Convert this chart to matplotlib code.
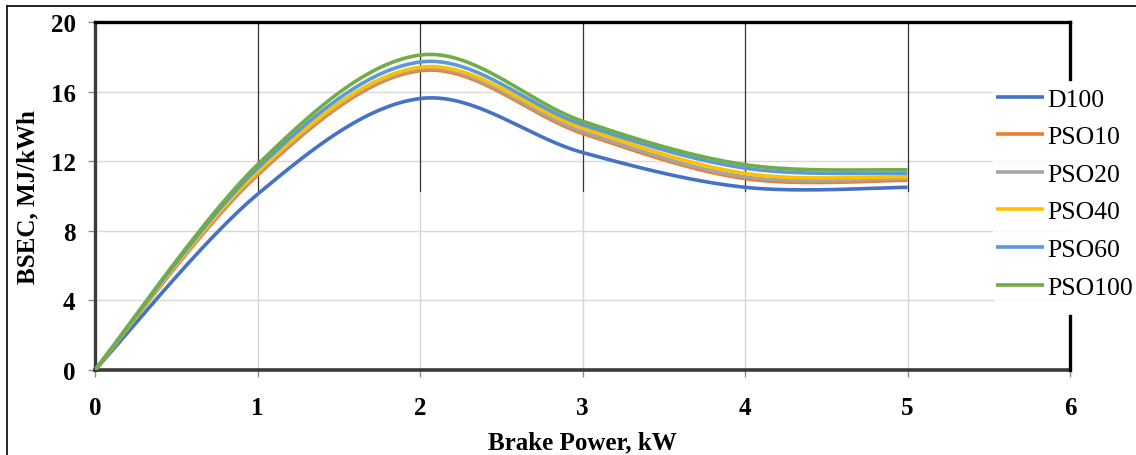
import numpy as np
import matplotlib
matplotlib.use("Agg")
import matplotlib.pyplot as plt
from matplotlib.lines import Line2D

# data
brake_power = [0, 1, 2, 3, 4, 5]
d100 = [0, 10.1, 15.6, 12.5, 10.5, 10.5]
pso10 = [0, 11.2, 17.2, 13.6, 11.0, 10.9]
pso20 = [0, 11.3, 17.3, 13.7, 11.1, 11.0]
pso40 = [0, 11.4, 17.4, 13.9, 11.3, 11.1]
pso60 = [0, 11.6, 17.7, 14.1, 11.6, 11.3]
pso100 = [0, 11.8, 18.1, 14.3, 11.8, 11.5]

series_names = ["D100", "PSO10", "PSO20", "PSO40", "PSO60", "PSO100"]
series_values = [d100, pso10, pso20, pso40, pso60, pso100]
series_colors = ["#4472C4", "#ED7D31", "#A5A5A5", "#FFC000", "#5B9BD5", "#70AD47"]

x_ticks = [0, 1, 2, 3, 4, 5, 6]
y_ticks = [0, 4, 8, 12, 16, 20]


def smooth(xs, ys, n=40):
    # Excel-style smoothed line (Bezier segments through the points)
    xs = np.asarray(xs, float)
    ys = np.asarray(ys, float)
    px = np.concatenate([[xs[0]], xs, [xs[-1]]])
    py = np.concatenate([[ys[0]], ys, [ys[-1]]])
    outx, outy = [], []
    t = np.linspace(0, 1, n)
    for i in range(1, len(px) - 2):
        p0 = np.array([px[i], py[i]])
        p3 = np.array([px[i + 1], py[i + 1]])
        p1 = p0 + (np.array([px[i + 1], py[i + 1]]) - np.array([px[i - 1], py[i - 1]])) / 6
        p2 = p3 - (np.array([px[i + 2], py[i + 2]]) - np.array([px[i], py[i]])) / 6
        b = ((1 - t) ** 3)[:, None] * p0 + (3 * (1 - t) ** 2 * t)[:, None] * p1 \
            + (3 * (1 - t) * t ** 2)[:, None] * p2 + (t ** 3)[:, None] * p3
        outx.extend(b[:, 0])
        outy.extend(b[:, 1])
    return outx, outy


plt.rcParams['font.family'] = ['Liberation Serif', 'DejaVu Serif']

fig = plt.figure(figsize=(11.36, 4.56), dpi=100)
ax = fig.add_axes([95 / 1136, 85 / 456, 975 / 1136, 348 / 456])
ax.set_xlim(0, 6)
ax.set_ylim(0, 20)

# grid (the vertical lines are dark in the upper half of the plot)
for yv in y_ticks[1:-1]:
    ax.axhline(yv, color="#d9d9d9", lw=1.0, zorder=0)
for xv in x_ticks[1:-1]:
    ax.plot([xv, xv], [0, 10.3], color="#d4d4e2", lw=1.0, zorder=0)
    ax.plot([xv, xv], [10.3, 20], color="#333333", lw=0.9, zorder=0)

for name, vals, col in zip(series_names, series_values, series_colors):
    sx, sy = smooth(brake_power, vals)
    ax.plot(sx, sy, color=col, lw=2.6, label=name, solid_capstyle="butt", zorder=3)

# spines
ax.spines["right"].set_visible(False)
ax.spines["top"].set_linewidth(2.4)
ax.spines["top"].set_color("black")
ax.spines["left"].set_linewidth(2.4)
ax.spines["left"].set_color("#3a3a3a")
ax.spines["bottom"].set_linewidth(2.6)
ax.spines["bottom"].set_color("#3a3a3a")
ax.plot([1, 1], [1, 0.835], transform=ax.transAxes, color="black", lw=2.4,
        clip_on=False, zorder=5)
ax.plot([1, 1], [0.155, 0], transform=ax.transAxes, color="black", lw=2.4,
        clip_on=False, zorder=5)

ax.set_xticks(x_ticks)
ax.set_yticks(y_ticks)
ax.tick_params(axis="both", direction="out", length=5, width=1, color="#8c8c8c",
               labelsize=18)
ax.tick_params(axis="y", pad=9)
ax.tick_params(axis="x", pad=14)
for lab in ax.get_xticklabels() + ax.get_yticklabels():
    lab.set_fontweight("bold")

ax.set_xlabel("Brake Power, kW", fontsize=18, fontweight="bold", labelpad=8)
ax.set_ylabel("BSEC, MJ/kWh", fontsize=18, fontweight="bold", labelpad=8)

leg = ax.legend(loc="upper left", bbox_to_anchor=(993 / 1136, 1 - 86 / 456),
                bbox_transform=fig.transFigure, frameon=True, fontsize=18.5,
                handlelength=1.9, handletextpad=0.1, labelspacing=0.57,
                borderpad=0.1, borderaxespad=0)
leg.get_frame().set_facecolor("white")
leg.get_frame().set_edgecolor("white")
leg.set_zorder(6)

# outer frame of the picture
fig.add_artist(Line2D([7 / 1136, 7 / 1136], [0, 1 - 7 / 456], color="black", lw=1.2,
                      transform=fig.transFigure))
fig.add_artist(Line2D([7 / 1136, 1], [1 - 7 / 456, 1 - 7 / 456], color="black", lw=1.2,
                      transform=fig.transFigure))

fig.savefig("out.png", dpi=100)
